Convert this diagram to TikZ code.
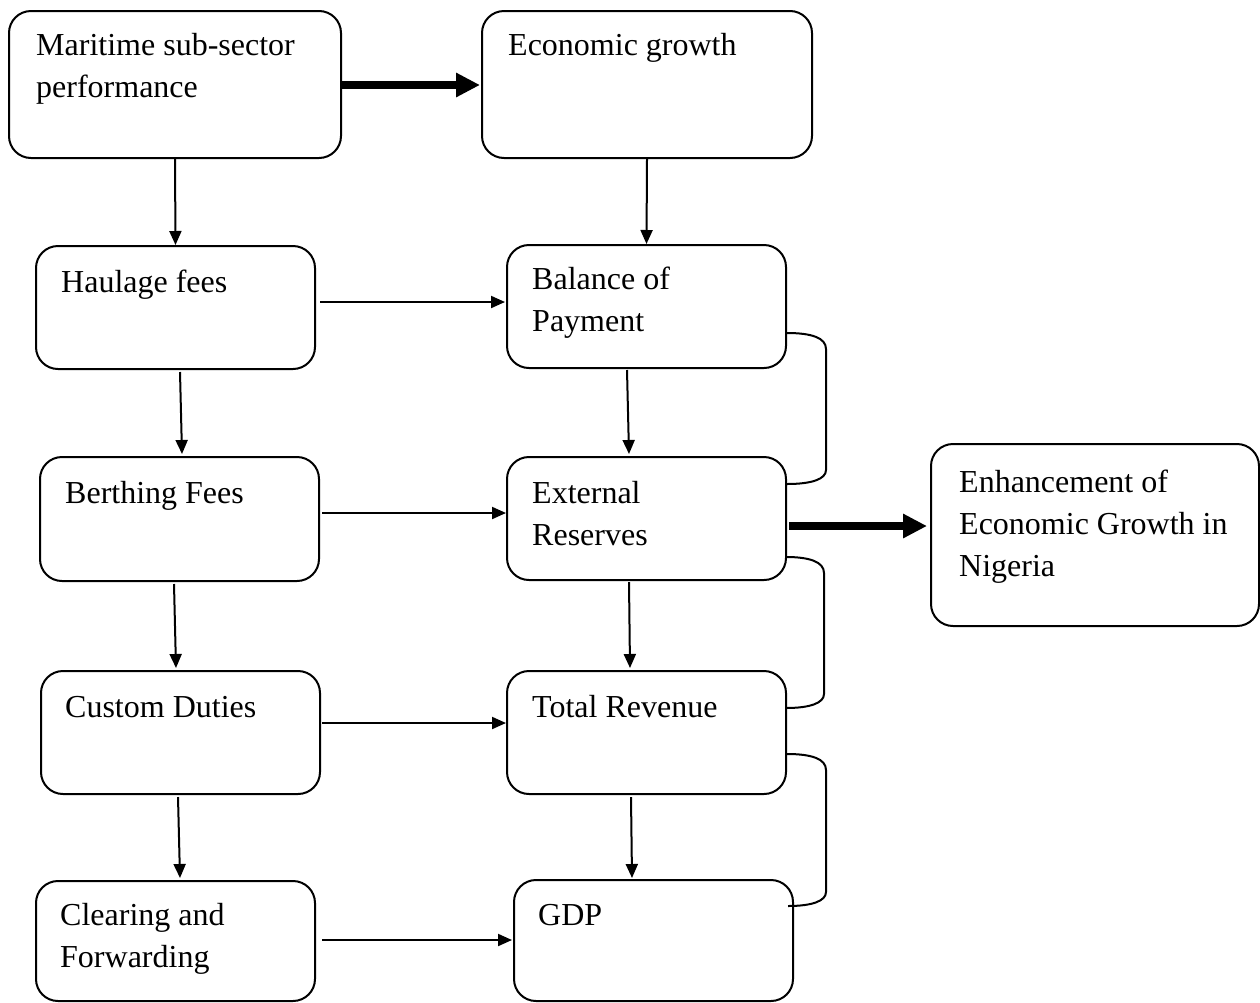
\documentclass[tikz,border=0pt]{standalone}
\usepackage{fontspec}
\setmainfont{Liberation Serif}
\usetikzlibrary{arrows.meta}
\begin{document}
\begin{tikzpicture}[x=1pt,y=-1pt,
  box/.style={draw, line width=2pt, rounded corners=22pt, inner sep=0pt, anchor=north west},
  txt/.style={anchor=base west, inner sep=0pt, align=left, font=\fontsize{32}{42}\selectfont},
  arr/.style={line width=2pt, -{Triangle[length=14pt,width=12pt]}},
  bigarr/.style={line width=8pt, -{Triangle[length=24pt,width=23pt]}},
  bracepath/.style={line width=2pt}]
\useasboundingbox (0,0) rectangle (1260,1002);
% boxes
\node[box, minimum width=332pt, minimum height=147pt] (mar) at (8,10) {};
\node[box, minimum width=330pt, minimum height=147pt] (eco) at (481,10) {};
\node[box, minimum width=279pt, minimum height=123pt] (hau) at (35,245) {};
\node[box, minimum width=279pt, minimum height=123pt] (bop) at (506,244) {};
\node[box, minimum width=279pt, minimum height=124pt] (ber) at (39,456) {};
\node[box, minimum width=279pt, minimum height=123pt] (ext) at (506,456) {};
\node[box, minimum width=279pt, minimum height=123pt] (cus) at (40,670) {};
\node[box, minimum width=279pt, minimum height=123pt] (tot) at (506,670) {};
\node[box, minimum width=279pt, minimum height=120pt] (cle) at (35,880) {};
\node[box, minimum width=279pt, minimum height=121pt] (gdp) at (513,879) {};
\node[box, minimum width=328pt, minimum height=182pt] (enh) at (930,443) {};
% texts (base anchor = baseline of last line)
\node[txt] (tmar) at (36,97) {Maritime sub-sector\\performance};
\node[txt] (teco) at (508,55) {Economic growth};
\node[txt] (thau) at (61,292) {Haulage fees};
\node[txt] (tbop) at (532,331) {Balance of\\Payment};
\node[txt] (tber) at (65,503) {Berthing Fees};
\node[txt] (text) at (532,545) {External\\Reserves};
\node[txt] (tcus) at (65,717) {Custom Duties};
\node[txt] (ttot) at (532,717) {Total Revenue};
\node[txt] (tcle) at (60,967) {Clearing and\\Forwarding};
\node[txt] (tgdp) at (538,925) {GDP};
\node[txt] (tenh) at (959,576) {Enhancement of\\Economic Growth in\\Nigeria};
% thick arrows
\draw[bigarr] ([shift={(0,0.5)}]mar.east) -- ([shift={(-1,0.5)}]eco.west);
\draw[bigarr] ([shift={(2,7.5)}]ext.east) -- ([shift={(-3,-9)}]enh.west);
% vertical arrows
\draw[arr] (mar.south) -- (hau.north);
\draw[arr] (eco.south) -- (bop.north);
\draw[arr] ([shift={(4.5,2)}]hau.south) -- ([shift={(2.5,-2)}]ber.north);
\draw[arr] ([shift={(-19.5,1)}]bop.south) -- ([shift={(-17.5,-2)}]ext.north);
\draw[arr] ([shift={(-5.5,2)}]ber.south) -- ([shift={(-4.5,-2)}]cus.north);
\draw[arr] ([shift={(-17.5,1)}]ext.south) -- ([shift={(-16.5,-2)}]tot.north);
\draw[arr] ([shift={(-2.5,2)}]cus.south) -- ([shift={(4.5,-2)}]cle.north);
\draw[arr] ([shift={(-15.5,2)}]tot.south) -- ([shift={(-21.5,-1)}]gdp.north);
% horizontal arrows
\draw[arr] ([shift={(4,-5.5)}]hau.east) -- ([shift={(-1,-4.5)}]bop.west);
\draw[arr] ([shift={(2,-6)}]ber.east) -- ([shift={(0,-5.5)}]ext.west);
\draw[arr] ([shift={(1,-9.5)}]cus.east) -- ([shift={(0,-9.5)}]tot.west);
\draw[arr] ([shift={(6,-1)}]cle.east) -- ([shift={(-1,-0.5)}]gdp.west);
% braces
\coordinate (b1s) at (787,333);
\coordinate (b1e) at (787,484);
\coordinate (b2s) at (786,557);
\coordinate (b2e) at (786,708);
\coordinate (b3s) at (787,754);
\coordinate (b3e) at (788,906);
\draw[bracepath] (b1s) .. controls (812,333) and (826,338) .. (826,349) -- (826,470) .. controls (826,479) and (812,484) .. (b1e);
\draw[bracepath] (b2s) .. controls (810,557) and (824,562) .. (824,573) -- (824,694) .. controls (824,703) and (810,708) .. (b2e);
\draw[bracepath] (b3s) .. controls (812,754) and (826,759) .. (826,770) -- (826,892) .. controls (826,901) and (812,906) .. (b3e);
\end{tikzpicture}
\end{document}
